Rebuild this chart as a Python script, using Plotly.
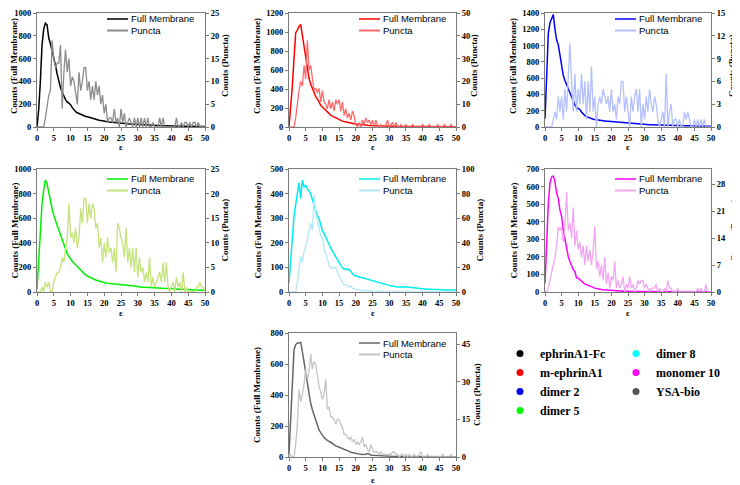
import plotly.graph_objects as go

# ---------------- data ----------------
EPS = [i / 2 for i in range(101)]  # epsilon bins 0 .. 50

SAMPLES = ["ephrinA1-Fc", "m-ephrinA1", "dimer 2", "dimer 5", "dimer 8", "monomer 10", "YSA-bio"]

FULL_EPHRINA1_FC = [0, 150, 400, 720, 860, 910, 895, 780, 730, 670,
                    615, 540, 465, 400, 345, 305, 270, 240, 220, 205,
                    195, 170, 150, 135, 125, 118, 112, 100, 95, 92,
                    90, 85, 80, 75, 70, 66, 62, 60, 57, 53,
                    50, 48, 46, 44, 42, 40, 38, 36, 35, 33,
                    32, 31, 30, 29, 28, 27, 26, 26, 25, 24,
                    23, 22, 21, 20, 19, 18, 17, 17, 16, 15,
                    15, 14, 14, 13, 13, 12, 12, 11, 11, 10,
                    10, 9, 9, 9, 8, 8, 8, 7, 7, 7,
                    7, 6, 6, 6, 6, 5, 5, 5, 5, 5,
                    5]
PUNCTA_EPHRINA1_FC = [0, 0, 0, 0, 0, 2, 5, 7, 8, 19,
                      15, 13, 14, 14, 18, 4, 12, 17, 12, 15,
                      9, 11, 10, 7, 5, 12, 8, 10, 13, 13,
                      8, 10, 6, 9, 6, 10, 7, 9, 5, 7,
                      3, 5, 1, 2, 2, 1, 4, 1, 2, 0,
                      4, 1, 3, 0, 1, 2, 1, 0, 2, 0,
                      2, 0, 2, 0, 2, 0, 2, 0, 0, 1,
                      0, 0, 0, 2, 0, 2, 0, 0, 0, 0,
                      0, 0, 0, 2, 0, 0, 1, 0, 1, 1,
                      0, 1, 0, 1, 1, 0, 1, 0, 0, 0,
                      0]

FULL_M_EPHRINA1 = [0, 200, 430, 720, 990, 1020, 1060, 1080, 960, 840,
                   710, 590, 510, 450, 400, 360, 320, 295, 260, 228,
                   210, 192, 170, 150, 135, 125, 115, 105, 95, 85,
                   75, 68, 62, 57, 52, 48, 44, 41, 38, 35,
                   32, 29, 27, 25, 23, 21, 19, 18, 17, 16,
                   15, 14, 13, 12, 11, 11, 10, 10, 9, 9,
                   8, 8, 7, 7, 7, 6, 6, 6, 6, 5,
                   5, 5, 5, 5, 4, 4, 4, 4, 4, 4,
                   4, 4, 3, 3, 3, 3, 3, 3, 3, 3,
                   3, 3, 3, 2, 2, 2, 2, 2, 2, 2,
                   2]
PUNCTA_M_EPHRINA1 = [0, 0, 0, 0, 4, 11, 16, 20, 18, 27,
                     21, 38, 25, 27, 22, 16, 17, 15, 17, 11,
                     16, 11, 10, 8, 12, 8, 11, 7, 12, 10,
                     12, 7, 11, 5, 8, 4, 6, 3, 7, 5,
                     1, 0, 2, 0, 3, 1, 4, 2, 3, 1,
                     3, 0, 3, 1, 0, 1, 0, 0, 1, 3,
                     0, 1, 2, 0, 2, 0, 0, 1, 0, 0,
                     1, 0, 0, 0, 1, 0, 0, 0, 0, 0,
                     1, 0, 0, 0, 1, 0, 0, 0, 0, 1,
                     0, 0, 0, 1, 0, 0, 0, 1, 0, 0,
                     0]

FULL_DIMER2 = [100, 690, 1150, 1280, 1320, 1380, 1200, 1070, 1010, 880,
               730, 635, 570, 520, 470, 425, 365, 310, 270, 240,
               225, 215, 185, 155, 140, 128, 118, 110, 102, 96,
               92, 88, 84, 80, 78, 76, 74, 72, 70, 68,
               66, 64, 62, 60, 58, 56, 54, 52, 50, 48,
               46, 44, 42, 40, 39, 37, 36, 35, 34, 33,
               32, 31, 30, 29, 28, 27, 27, 26, 26, 25,
               25, 24, 23, 23, 22, 21, 21, 20, 20, 19,
               19, 18, 18, 17, 17, 16, 16, 15, 15, 14,
               14, 13, 13, 12, 12, 12, 11, 11, 11, 10,
               10]
PUNCTA_DIMER2 = [0, 0, 0, 0, 0, 1, 2, 1, 4, 2,
                 4, 1, 5, 2, 6, 11, 6, 2, 7, 2,
                 5, 3, 7, 3, 6, 1, 6, 2, 8, 2,
                 4, 0, 3, 4, 3, 5, 4, 3, 4, 2,
                 5, 2, 3, 1, 4, 3, 6, 6, 2, 4,
                 2, 0, 4, 2, 4, 5, 2, 5, 0, 3,
                 1, 4, 2, 5, 3, 2, 4, 3, 1, 0,
                 1, 2, 0, 7, 0, 2, 3, 0, 1, 1,
                 0, 1, 0, 0, 2, 1, 2, 1, 0, 0,
                 1, 0, 1, 0, 1, 0, 1, 0, 0, 0,
                 0]

FULL_DIMER5 = [20, 260, 480, 720, 830, 910, 880, 800, 730, 675,
               625, 575, 540, 505, 470, 430, 395, 350, 310, 290,
               260, 250, 235, 220, 205, 190, 175, 160, 145, 138,
               130, 122, 118, 110, 104, 98, 93, 88, 84, 80,
               77, 74, 72, 70, 68, 66, 64, 63, 62, 60,
               59, 58, 57, 56, 54, 52, 50, 47, 45, 43,
               42, 41, 40, 39, 39, 38, 38, 37, 36, 35,
               34, 33, 33, 32, 32, 31, 31, 30, 29, 28,
               27, 26, 25, 24, 23, 22, 22, 21, 21, 20,
               20, 19, 19, 18, 18, 17, 16, 16, 15, 15,
               15]
PUNCTA_DIMER5 = [0, 0, 0, 1, 0, 2, 1, 2, 0, 0,
                 2, 3, 4, 4, 5, 7, 6, 9, 11, 18,
                 11, 12, 10, 13, 9, 11, 17, 14, 19, 19,
                 14, 18, 15, 18, 17, 13, 14, 9, 11, 6,
                 10, 7, 11, 8, 9, 6, 9, 4, 14, 13,
                 11, 10, 7, 13, 6, 9, 5, 9, 4, 9,
                 3, 7, 4, 5, 2, 4, 2, 7, 1, 3,
                 1, 2, 3, 4, 2, 6, 2, 6, 1, 0,
                 1, 2, 0, 3, 1, 2, 0, 4, 0, 1,
                 0, 0, 0, 0, 0, 1, 1, 2, 1, 1,
                 0]

FULL_DIMER8 = [37, 130, 210, 307, 355, 400, 445, 380, 455, 425,
               435, 420, 410, 398, 375, 350, 330, 310, 300, 270,
               248, 238, 222, 208, 192, 178, 168, 158, 143, 132,
               118, 108, 100, 92, 95, 90, 92, 82, 75, 68,
               65, 62, 61, 59, 58, 56, 54, 52, 49, 46,
               44, 42, 40, 39, 38, 36, 35, 33, 31, 29,
               27, 25, 24, 22, 21, 20, 20, 21, 22, 23,
               21, 20, 19, 18, 17, 16, 15, 15, 14, 13,
               13, 12, 12, 11, 11, 11, 10, 10, 10, 9,
               9, 9, 9, 8, 8, 8, 8, 8, 8, 8,
               8]
PUNCTA_DIMER8 = [0, 0, 0, 0, 0, 8, 20, 29, 24, 33,
                 37, 42, 50, 56, 50, 79, 64, 58, 50, 46,
                 44, 35, 31, 27, 21, 20, 19, 20, 20, 16,
                 13, 10, 8, 6, 6, 5, 4, 5, 3, 3,
                 2, 2, 2, 1, 1, 1, 2, 1, 1, 0,
                 1, 0, 0, 1, 0, 0, 1, 0, 0, 0,
                 1, 0, 0, 0, 0, 1, 0, 0, 0, 0,
                 0, 1, 0, 0, 0, 0, 0, 0, 0, 1,
                 0, 0, 0, 0, 0, 0, 0, 0, 0, 0,
                 0, 0, 0, 0, 0, 0, 0, 1, 0, 0,
                 0]

FULL_MONOMER10 = [50, 315, 505, 620, 655, 660, 628, 562, 533, 467,
                  430, 354, 297, 240, 202, 174, 146, 127, 117, 80,
                  78, 70, 60, 55, 45, 42, 39, 36, 31, 26,
                  22, 19, 17, 15, 14, 13, 12, 11, 10, 9,
                  8, 7, 7, 6, 6, 5, 5, 4, 4, 4,
                  3, 3, 3, 3, 3, 3, 3, 3, 3, 3,
                  3, 2, 2, 2, 2, 2, 2, 2, 2, 2,
                  2, 2, 2, 2, 2, 2, 1, 1, 1, 1,
                  1, 1, 1, 1, 1, 1, 1, 1, 1, 1,
                  1, 1, 1, 1, 1, 1, 1, 1, 1, 1,
                  1]
PUNCTA_MONOMER10 = [0, 0, 1, 3, 5, 7, 9, 12, 17, 16,
                    17, 13, 17, 26, 16, 18, 14, 22, 12, 16,
                    11, 13, 9, 12, 7, 12, 8, 11, 7, 11,
                    17, 6, 8, 4, 7, 3, 9, 2, 5, 1,
                    4, 3, 8, 1, 3, 1, 2, 4, 0, 2,
                    1, 4, 1, 2, 0, 1, 3, 2, 3, 3,
                    1, 2, 1, 0, 1, 1, 1, 2, 0, 1,
                    0, 0, 1, 0, 3, 1, 1, 0, 0, 0,
                    1, 0, 0, 0, 0, 0, 0, 0, 0, 0,
                    0, 0, 1, 0, 1, 0, 0, 2, 0, 0,
                    0]

FULL_YSA_BIO = [20, 240, 520, 690, 725, 735, 735, 740, 680, 615,
                545, 465, 395, 345, 305, 270, 238, 205, 175, 157,
                140, 125, 115, 105, 100, 95, 86, 78, 72, 68,
                64, 59, 56, 53, 48, 42, 36, 31, 28, 25,
                23, 21, 19, 17, 16, 15, 18, 22, 16, 13,
                12, 11, 10, 9, 8, 8, 7, 6, 6, 5,
                5, 4, 4, 4, 4, 4, 4, 4, 4, 4,
                3, 3, 3, 3, 3, 3, 3, 3, 3, 3,
                2, 2, 2, 2, 2, 2, 2, 2, 2, 2,
                2, 2, 2, 2, 2, 2, 2, 2, 2, 2,
                2]
PUNCTA_YSA_BIO = [0, 1, 0, 0, 5, 13, 27, 22, 25, 29,
                  35, 31, 34, 41, 35, 38, 37, 33, 28, 26,
                  23, 25, 31, 19, 20, 16, 16, 15, 13, 15,
                  15, 13, 12, 9, 9, 8, 7, 8, 6, 7,
                  5, 6, 5, 6, 8, 4, 5, 3, 2, 5,
                  3, 2, 2, 2, 1, 2, 1, 1, 1, 1,
                  1, 1, 2, 2, 1, 1, 0, 1, 1, 0,
                  1, 0, 1, 0, 0, 1, 0, 0, 1, 2,
                  0, 0, 0, 1, 0, 0, 0, 0, 0, 0,
                  0, 0, 1, 0, 0, 0, 0, 1, 0, 0,
                  0]

FULL_SERIES = [FULL_EPHRINA1_FC, FULL_M_EPHRINA1, FULL_DIMER2, FULL_DIMER5,
               FULL_DIMER8, FULL_MONOMER10, FULL_YSA_BIO]
PUNCTA_SERIES = [PUNCTA_EPHRINA1_FC, PUNCTA_M_EPHRINA1, PUNCTA_DIMER2, PUNCTA_DIMER5,
                 PUNCTA_DIMER8, PUNCTA_MONOMER10, PUNCTA_YSA_BIO]

LEFT_MAX = [1000, 1200, 1400, 1000, 500, 700, 800]
LEFT_DTICK = [200, 200, 200, 200, 100, 100, 200]
RIGHT_MAX = [25, 50, 15, 25, 100, 32, 49.4]
RIGHT_DTICK = [5, 10, 3, 5, 20, 7, 15]

X_TICKS = [0, 5, 10, 15, 20, 25, 30, 35, 40, 45, 50]
LEGEND_LABELS = ["Full Membrane", "Puncta"]
LEFT_TITLE = "Counts (Full Membrane)"
RIGHT_TITLE = "Counts (Puncta)"
X_TITLE = "ε"

# ---------------- style ----------------
PAGE_OFFSET = 8          # default page margin of the html body
W, H = 740 - PAGE_OFFSET, 485 - PAGE_OFFSET
MIN_TOP = PAGE_OFFSET + 5  # keep the top tick labels inside the page
FULL_COLORS = ["#000000", "#ff0000", "#0000ff", "#00ee00", "#00eeee", "#ff00ff", "#666666"]
PUNCTA_COLORS = ["#8c8c8c", "#ff6a6a", "#b4c0ff", "#c4e37a", "#b4e6fa", "#f2a6f2", "#c4c4c4"]
DOT_COLORS = ["#000000", "#ff0000", "#0000ff", "#00ff00", "#00ffff", "#ff00ff", "#555555"]
# panel boxes in screen pixels: (left, right, top, bottom)
BOXES = [(37, 205, 5, 127), (289, 456, 5, 127), (545, 711, 5, 127),
         (37, 205, 169, 292), (289, 456, 169, 292), (545, 711, 169, 292),
         (289, 456, 333, 457)]
RIGHT_TITLE_OFFSET = [20, 18, 21, 19, 23, 22, 21]
X_TITLE_OFFSET = [20, 20, 20, 21, 21, 21, 23]

SERIF = "Liberation Serif"
SANS = "Liberation Sans"
tickfont = dict(family=SERIF, size=8.5, color="black", weight="bold")
titlefont = dict(family=SERIF, size=9, color="black", weight="bold")
AXCOL = "#7a7a7a"


def px_x(p):
    return (p - PAGE_OFFSET) / W


def px_y(p):
    return 1 - (p - PAGE_OFFSET) / H


fig = go.Figure()
layout = dict(width=W, height=H, margin=dict(l=0, r=0, t=0, b=0, autoexpand=False),
              paper_bgcolor="white", plot_bgcolor="white", showlegend=True)
annotations = []
shapes = []

for i in range(7):
    n = i + 1
    xn = "x" if n == 1 else f"x{n}"
    yl = "y" if n == 1 else f"y{n}"
    yr = f"y{n + 7}"
    xkey = "xaxis" if n == 1 else f"xaxis{n}"
    ylkey = "yaxis" if n == 1 else f"yaxis{n}"
    yrkey = f"yaxis{n + 7}"
    l, r, t, b = BOXES[i]
    t_plot = max(t, MIN_TOP)

    fig.add_trace(go.Scatter(x=EPS, y=FULL_SERIES[i], xaxis=xn, yaxis=yl, mode="lines",
                             line=dict(color=FULL_COLORS[i], width=1.5),
                             name=LEGEND_LABELS[0], showlegend=False))
    fig.add_trace(go.Scatter(x=EPS, y=PUNCTA_SERIES[i], xaxis=xn, yaxis=yr, mode="lines",
                             line=dict(color=PUNCTA_COLORS[i], width=1.3),
                             name=LEGEND_LABELS[1], showlegend=False))

    common = dict(ticks="outside", ticklen=3, tickcolor=AXCOL, showline=True,
                  linecolor=AXCOL, linewidth=1, showgrid=False, zeroline=False,
                  tickfont=tickfont, automargin=False, ticklabeloverflow="allow")
    layout[xkey] = dict(domain=[px_x(l), px_x(r)], anchor=yl, range=[0, 50],
                        tickvals=X_TICKS, mirror=True, **common)
    layout[ylkey] = dict(domain=[px_y(b), px_y(t_plot)], anchor=xn, range=[0, LEFT_MAX[i]],
                         dtick=LEFT_DTICK[i], tick0=0, mirror=True, **common)
    layout[yrkey] = dict(overlaying=yl, side="right", anchor=xn, range=[0, RIGHT_MAX[i]],
                         dtick=RIGHT_DTICK[i], tick0=0, **common)

    # axis titles
    annotations.append(dict(text=LEFT_TITLE, xref="paper", yref="paper",
                            x=px_x(max(l - 32, PAGE_OFFSET + 6)),
                            y=px_y((t + b) / 2), textangle=-90, showarrow=False,
                            xanchor="center", yanchor="middle", font=titlefont))
    annotations.append(dict(text=RIGHT_TITLE, xref="paper", yref="paper",
                            x=px_x(r + RIGHT_TITLE_OFFSET[i]), y=px_y((t + b) / 2),
                            textangle=-90, showarrow=False, xanchor="center",
                            yanchor="middle", font=titlefont))
    annotations.append(dict(text=X_TITLE, xref="paper", yref="paper", x=px_x((l + r) / 2),
                            y=px_y(b + X_TITLE_OFFSET[i]), showarrow=False, xanchor="center",
                            yanchor="middle", font=titlefont))

    # in-panel legend
    for k, (lab, col, lw) in enumerate(zip(LEGEND_LABELS, [FULL_COLORS[i], PUNCTA_COLORS[i]], [1.5, 2])):
        yy = max(t + 10, MIN_TOP + 6) + 11.5 * k
        shapes.append(dict(type="line", xref="paper", yref="paper",
                           x0=px_x(l + 70), x1=px_x(l + 91), y0=px_y(yy), y1=px_y(yy),
                           line=dict(color=col, width=lw)))
        annotations.append(dict(text=lab, xref="paper", yref="paper", x=px_x(l + 92),
                                y=px_y(yy), xanchor="left", yanchor="middle", showarrow=False,
                                font=dict(family=SANS, size=9.5, color="black")))

# sample legend (two columns)
for j, name in enumerate(SAMPLES):
    fig.add_trace(go.Scatter(x=[None], y=[None], mode="markers", name=name,
                             marker=dict(color=DOT_COLORS[j], size=7),
                             legend="legend" if j < 4 else "legend2", showlegend=True))

legfont = dict(family=SERIF, size=12, color="black", weight="bold")
layout["legend"] = dict(x=px_x(500), y=px_y(339), xanchor="left", yanchor="top",
                        bgcolor="rgba(0,0,0,0)", font=legfont, tracegroupgap=0)
layout["legend2"] = dict(x=px_x(616), y=px_y(339), xanchor="left", yanchor="top",
                         bgcolor="rgba(0,0,0,0)", font=legfont, tracegroupgap=0)
layout["annotations"] = annotations
layout["shapes"] = shapes

fig.update_layout(**layout)
fig.write_html("out.html")
